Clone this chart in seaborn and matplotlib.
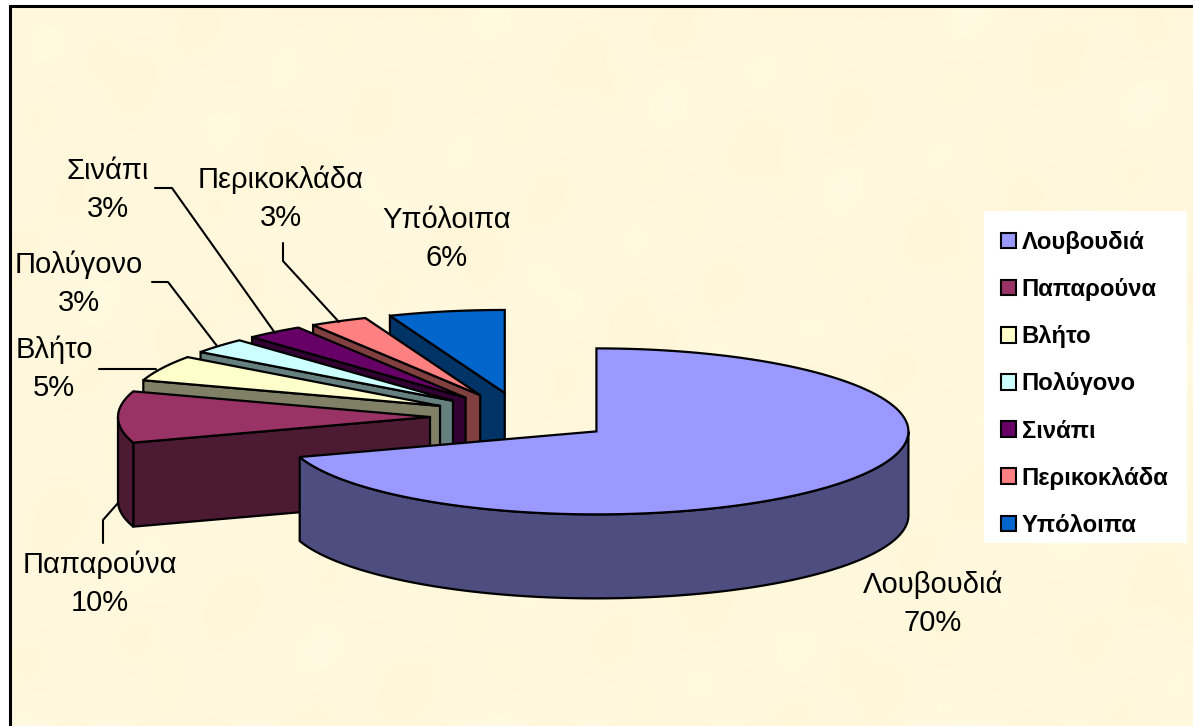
# 3D style exploded pie, drawn by hand since matplotlib has no real one

import numpy as np
import matplotlib
matplotlib.use('Agg')
import matplotlib.pyplot as plt
from matplotlib.patches import Patch, Polygon
import seaborn as sns

names = ['Λουβουδιά', 'Παπαρούνα', 'Βλήτο', 'Πολύγονο', 'Σινάπι', 'Περικοκλάδα', 'Υπόλοιπα']
percents = [70, 10, 5, 3, 3, 3, 6]
top_colors = ['#9999FF', '#993366', '#FFFFCC', '#CCFFFF', '#660066', '#FF8080', '#0066CC']

sns.set_theme(style='white')
plt.rcParams['font.family'] = ['Liberation Sans', 'DejaVu Sans']

fig, ax = plt.subplots(figsize=(11.93, 7.26), dpi=100)
fig.subplots_adjust(0, 0, 1, 1)
ax.set_xlim(0, 1193)
ax.set_ylim(726, 0)
ax.axis('off')

# mottled parchment background, only a left and a top border are visible
xx, yy = np.meshgrid(np.arange(0, 1193, 4), np.arange(0, 726, 4))
tex = (np.sin(xx / 37 + yy / 53) + np.sin(xx / 19 - yy / 29 + 1.3) + np.sin(xx / 71 + yy / 23 + 0.4)
       + np.sin(xx / 13 + yy / 17 + 2.1) * 0.6)
tex = tex / 3.6
bg = np.zeros(xx.shape + (3,))
bg[..., 0] = 1.0
bg[..., 1] = 0.972 + 0.007 * tex
bg[..., 2] = 0.865 + 0.02 * tex
ax.imshow(bg, extent=(10, 1193, 726, 6), interpolation='bicubic', aspect='auto', zorder=0)
ax.plot([10, 10, 1193], [726, 5.5, 5.5], color='black', lw=2.2, solid_joinstyle='miter', zorder=1)
ax.set_xlim(0, 1193)
ax.set_ylim(726, 0)

# pie geometry in pixels
cx0, cy0 = 522, 417
rx, ry = 312, 83
depth = 84
explode = 92


def arc(cx, cy, t0, t1, drop=0):
    t = np.radians(np.linspace(t0, t1, 120))
    return np.column_stack([cx + rx * np.sin(t), cy - ry * np.cos(t) + drop])


def draw(pts, color, z):
    ax.add_patch(Polygon(pts, closed=True, fc=color, ec='black', lw=1.6, joinstyle='miter', zorder=z))


edges = np.cumsum([0] + percents) * 3.6
palette = sns.color_palette(top_colors)
order = list(range(len(names)))[::-1]
for z, i in enumerate(order):
    t0, t1 = edges[i], edges[i + 1]
    mid = np.radians((t0 + t1) / 2)
    cx = cx0 + explode * np.sin(mid)
    cy = cy0 - explode * ry / rx * np.cos(mid)
    wall = tuple(c * 0.5 for c in palette[i])
    zz = 3 + z * 3
    # flat face on the leading side
    if 180 < t0 < 360:
        face = [(cx, cy), arc(cx, cy, t0, t0)[0], arc(cx, cy, t0, t0, depth)[0], (cx, cy + depth)]
        draw(face, wall, zz)
    # rim, only the part that looks at the viewer
    a, b = max(t0, 90), min(t1, 270)
    if a < b:
        rim = np.vstack([arc(cx, cy, a, b), arc(cx, cy, a, b, depth)[::-1]])
        draw(rim, wall, zz)
    top = np.vstack([[(cx, cy)], arc(cx, cy, t0, t1)])
    draw(top, palette[i], zz + 1)

# data labels
label_pos = [(933, 604), (100, 584), (54, 369), (79, 284), (108, 190), (281, 199), (447, 239)]
for name, pct, (x, y) in zip(names, percents, label_pos):
    ax.text(x, y, f'{name}\n{pct}%', ha='center', va='center', fontsize=21, color='black',
            linespacing=1.45, zorder=40)

# leader lines
leaders = [
    [(155, 188), (172, 188), (275, 333)],
    [(152, 282), (168, 282), (217, 346)],
    [(283, 243), (283, 261), (339, 322)],
    [(99, 369), (156, 369)],
    [(103, 543), (103, 520), (118, 503)],
]
for pts in leaders:
    xs, ys = zip(*pts)
    ax.plot(xs, ys, color='black', lw=1.5, zorder=35)

# legend sits on its own white box
ax.add_patch(plt.Rectangle((984, 211), 203, 332, fc='white', ec='none', zorder=30))
handles = [Patch(fc=c, ec='black', lw=1.5) for c in palette]
leg = ax.legend(handles, names, loc='upper left', bbox_to_anchor=(1001 / 1193, 1 - 231 / 726),
                frameon=False, labelcolor='black',
                prop={'family': 'Liberation Sans', 'weight': 'bold', 'size': 17.2},
                handlelength=0.62, handleheight=0.62, handletextpad=0.24,
                labelspacing=1.01, borderpad=0, borderaxespad=0)
leg.set_zorder(41)

fig.savefig('out.png', dpi=100)
